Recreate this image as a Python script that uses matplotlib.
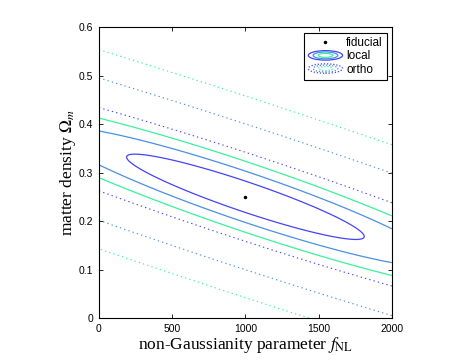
import numpy as np
import matplotlib
matplotlib.use('Agg')
import matplotlib.pyplot as plt
from matplotlib.legend_handler import HandlerBase
from matplotlib.patches import Ellipse
from matplotlib.lines import Line2D

# fiducial model
fid_fnl = 1000.0
fid_om = 0.25

# forecast errors / correlation (sigma_fNL, sigma_Om)
local_sig = [535.0, 0.058]
local_rho = -0.93
ortho_sig = [1857.0, 0.192]
ortho_rho = -0.949

# delta chi^2 for 68 / 95 / 99.7 % (2 parameters)
dchi2_levels = [2.30, 6.17, 11.8]
level_colors = ['#4444f6', '#4a90e2', '#3cf09c']

fnl_ticks = [0, 500, 1000, 1500, 2000]
om_ticks = [0, 0.1, 0.2, 0.3, 0.4, 0.5, 0.6]

plt.rcParams['font.family'] = ['Liberation Sans', 'DejaVu Sans']
plt.rcParams['mathtext.fontset'] = 'stix'


def dchi2(F, O, sig, rho):
    dx = (F - fid_fnl) / sig[0]
    dy = (O - fid_om) / sig[1]
    return (dx**2 - 2*rho*dx*dy + dy**2) / (1 - rho**2)


class RingsHandler(HandlerBase):
    def __init__(self, ls):
        HandlerBase.__init__(self)
        self.ls = ls

    def create_artists(self, legend, orig_handle, xdescent, ydescent,
                       width, height, fontsize, trans):
        cx = width/2 - xdescent
        cy = height/2 - ydescent
        out = []
        for s, c in zip([1.0, 0.72, 0.42], level_colors):
            e = Ellipse((cx, cy), width*s, height*1.15*s, fill=False,
                        ec=c, lw=0.9, ls=self.ls, transform=trans)
            out.append(e)
        return out


fig = plt.figure(figsize=(4.77, 3.61), dpi=100)
ax = fig.add_axes([0.2075, 0.119, 0.614, 0.806])

F, O = np.meshgrid(np.linspace(0, 2000, 801), np.linspace(0, 0.6, 601))

ax.contour(F, O, dchi2(F, O, ortho_sig, ortho_rho), levels=dchi2_levels,
           colors=level_colors, linewidths=0.8, linestyles=[(0, (1.2, 2.8))])
ax.contour(F, O, dchi2(F, O, local_sig, local_rho), levels=dchi2_levels,
           colors=level_colors, linewidths=0.9, linestyles='solid')
ax.plot([fid_fnl], [fid_om], 'k.', ms=3)

ax.set_xlim(0, 2000)
ax.set_ylim(0, 0.6)
ax.set_xticks(fnl_ticks)
ax.set_yticks(om_ticks)
ax.set_xticklabels([str(t) for t in fnl_ticks])
ax.set_yticklabels(['0'] + ['%.1f' % t for t in om_ticks[1:]])
ax.tick_params(direction='in', top=True, right=True, length=3, width=0.6,
               labelsize=7.5, pad=4)
for s in ax.spines.values():
    s.set_linewidth(0.8)

ax.set_xlabel(r'non-Gaussianity parameter $f_{\rm NL}$',
              family='Liberation Serif', fontsize=12.5, labelpad=1)
ax.set_ylabel(r'matter density $\Omega_m$',
              family='Liberation Serif', fontsize=12.5, labelpad=1)

h_fid = Line2D([], [], color='k', marker='.', ms=3, ls='none')
h_loc = object()
h_ort = object()
leg = ax.legend([h_fid, h_loc, h_ort], ['fiducial', 'local', 'ortho'],
                handler_map={h_loc: RingsHandler('solid'),
                             h_ort: RingsHandler((0, (1, 1.5)))},
                loc='upper right', bbox_to_anchor=(0.983, 0.979),
                borderaxespad=0, fancybox=False, edgecolor='k',
                framealpha=1, fontsize=8.5, handlelength=2.9, handletextpad=0.3,
                labelspacing=0.1, borderpad=0.35)
leg.get_frame().set_linewidth(0.8)

fig.savefig('out.png', dpi=100)
